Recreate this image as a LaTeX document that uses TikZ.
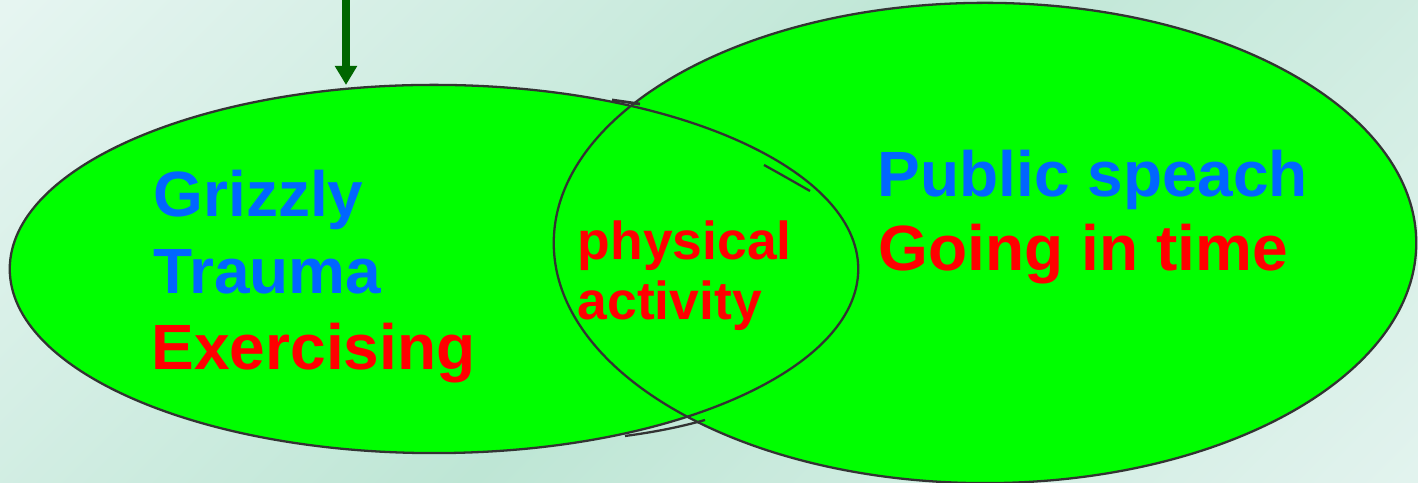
\documentclass[tikz,border=0pt]{standalone}
\usepackage{fontspec}
\setmainfont{Liberation Sans}
\usetikzlibrary{shapes.geometric,arrows.meta}

\definecolor{bgLight}{HTML}{E6F5F1}
\definecolor{bgMint}{HTML}{BEE6D5}
\definecolor{bgEnd}{HTML}{E2F3EE}
\definecolor{vennGreen}{HTML}{00FF00}
\definecolor{rimGray}{HTML}{333333}
\definecolor{labelBlue}{HTML}{0066FF}
\definecolor{labelRed}{HTML}{FF0000}
\definecolor{arrowGreen}{HTML}{006600}

% diagonal backdrop: light corner, mint band, lighter corner
\pgfdeclarehorizontalshading{backdrop}{100bp}{color(0bp)=(bgLight); color(15bp)=(bgLight); color(50bp)=(bgMint); color(85bp)=(bgEnd); color(100bp)=(bgEnd)}

\tikzset{
  blob/.style={ellipse, fill=vennGreen, inner sep=0pt, outer sep=0pt},
  rim/.style={draw=rimGray, line width=0.65pt},
  lbl/.style={anchor=base west, inner sep=0pt, font=\bfseries\fontsize{18.2}{20}\selectfont},
  smalllbl/.style={anchor=base west, inner sep=0pt, font=\bfseries\fontsize{15.2}{17}\selectfont},
  feed/.style={draw=arrowGreen, line width=2pt, -{Triangle[width=6pt,length=5.4pt]}}
}

\begin{document}
\begin{tikzpicture}[x=0.01cm,y=-0.01cm]
  % page frame and background
  \path[use as bounding box, shading=backdrop, shading angle=-45] (0,0) rectangle (1418,483);

  % the two sets: fills first, outlines afterwards so both rims show
  \node[blob, minimum width=8.48cm, minimum height=3.68cm] (setL) at (434,269) {};
  \node[blob, minimum width=8.62cm, minimum height=4.80cm] (setR) at (985,243) {};
  \draw[rim] (setL.center) ellipse [x radius=4.24cm, y radius=1.84cm];
  \draw[rim] (setR.center) ellipse [x radius=4.31cm, y radius=2.40cm];

  % stray strokes of the overlap outline
  \draw[rim] (625,436) .. controls (655,432) and (680,427) .. (705,420);
  \draw[rim] (764,165) .. controls (782,175) .. (810,191);
  \draw[rim, line width=0.8pt] (612,100) -- (640,104);

  % incoming arrow
  \coordinate (feedTop) at (346,0);
  \coordinate (feedTip) at (346,85);
  \draw[feed] (feedTop) -- (feedTip);

  % left set
  \node[lbl, text=labelBlue] (grizzly) at (153,217) {Grizzly};
  \node[lbl, text=labelBlue] (trauma) at (153,294) {Trauma};
  \node[lbl, text=labelRed] (exercising) at (151,370) {Exercising};

  % overlap
  \node[smalllbl, text=labelRed] (physical) at (577,260) {physical};
  \node[smalllbl, text=labelRed] (activity) at (577,320) {activity};

  % right set
  \node[lbl, text=labelBlue] (speech) at (877,197) {Public speach};
  \node[lbl, text=labelRed] (going) at (878,271) {Going in time};
\end{tikzpicture}
\end{document}
